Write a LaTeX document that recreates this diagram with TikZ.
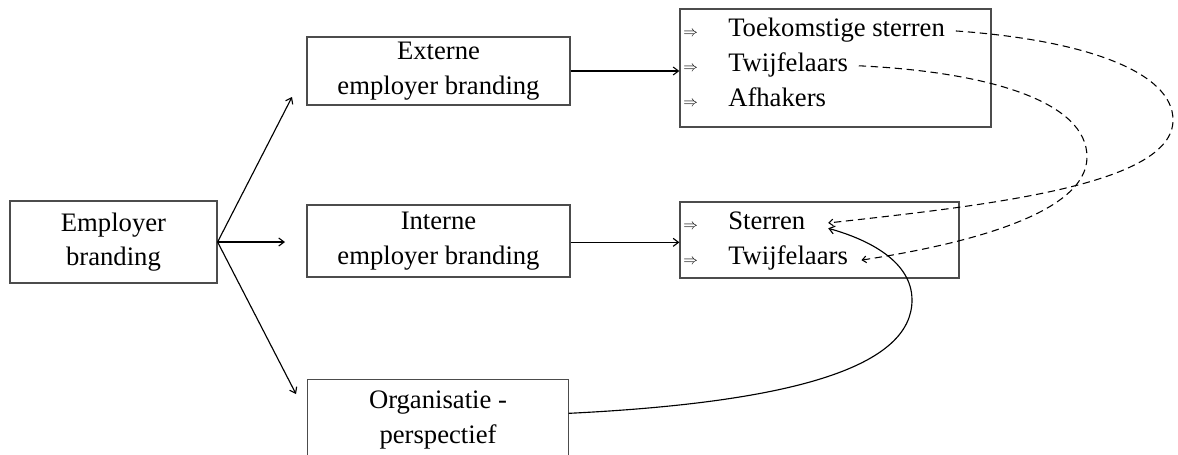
\documentclass[tikz,border=0pt]{standalone}
\usepackage{fontspec}
\setmainfont{Liberation Serif}
\usetikzlibrary{arrows.meta}
\begin{document}
\begin{tikzpicture}[x=0.75pt,y=-0.75pt,
  box/.style={draw=black!70,line width=0.9pt,inner sep=0pt,align=center,
    font=\fontsize{20}{26}\selectfont},
  item/.style={anchor=base west,inner sep=0pt,font=\fontsize{20}{24}\selectfont},
  bullet/.style={anchor=base west,inner sep=0pt,font=\fontsize{11}{13}\selectfont},
  conn/.style={line width=0.85pt,-{Straight Barb[length=4pt,width=6pt]}},
  dconn/.style={line width=0.8pt,dash pattern=on 5.5pt off 3.5pt,-{Straight Barb[length=3pt,width=5pt]}}
]
\useasboundingbox (0,0) rectangle (1178,454);
% boxes
\node[box,minimum width=155.25pt,minimum height=61.5pt] (eb) at (113.5,242) {Employer\\branding};
\node[box,minimum width=197.25pt,minimum height=51pt] (ext) at (438.5,71) {Externe\\employer branding};
\node[box,minimum width=197.25pt,minimum height=54pt] (int) at (438.5,241) {Interne\\employer branding};
\node[box,draw=none,minimum width=195pt,minimum height=60pt] (org) at (438,420) {Organisatie -\\perspectief};
\draw[draw=black!70,line width=0.9pt] (org.south west) -- (org.north west) -- (org.north east) -- (org.south east);
\node[box,minimum width=233.25pt,minimum height=88.5pt] (top) at (835.5,68) {};
\node[box,minimum width=209.25pt,minimum height=57pt] (mid) at (819.5,240) {};
% items
\node[bullet] (b1) at (683,36) {$\Rightarrow$};
\node[bullet] (b2) at (683,71) {$\Rightarrow$};
\node[bullet] (b3) at (683,106) {$\Rightarrow$};
\node[bullet] (b4) at (683,229) {$\Rightarrow$};
\node[bullet] (b5) at (683,264) {$\Rightarrow$};
\node[item] (ts) at (728,36) {Toekomstige sterren};
\node[item] (tw1) at (728,71) {Twijfelaars};
\node[item] (af) at (728,106) {Afhakers};
\node[item] (st) at (728,229) {Sterren};
\node[item] (tw2) at (728,264) {Twijfelaars};
% coordinates for curve ends
\coordinate (tsE) at ([xshift=8pt,yshift=-1pt]ts.east);
\coordinate (tw1E) at ([xshift=8pt,yshift=-1pt]tw1.east);
\coordinate (stE) at ([xshift=17pt,yshift=-2pt]st.east);
\coordinate (tw2E) at ([xshift=10pt,yshift=-2pt]tw2.east);
\coordinate (stS) at ([xshift=17pt,yshift=-6pt]st.east);
% connectors
\draw[conn] (eb.east) -- (292,97) coordinate (a1);
\draw[conn] (eb.east) -- (285,242) coordinate (a2);
\draw[conn] (eb.east) -- (296,394) coordinate (a3);
\draw[conn] (ext.east) -- (ext.east -| top.west);
\draw[conn] ([yshift=-1pt]int.east) -- ([yshift=-1pt]int.east -| mid.west);
\draw[dconn] (tsE) .. controls (1085,40) and (1173,72) .. (1173,120) .. controls (1173,185) and (990,205) .. (stE);
\draw[dconn] (tw1E) .. controls (990,72) and (1087,102) .. (1087,157) .. controls (1087,215) and (960,245) .. (tw2E);
\draw[conn] ([yshift=5pt]org.east) .. controls (800,402) and (912,365) .. (912,300) .. controls (912,262) and (870,240) .. (stS);
\end{tikzpicture}
\end{document}
